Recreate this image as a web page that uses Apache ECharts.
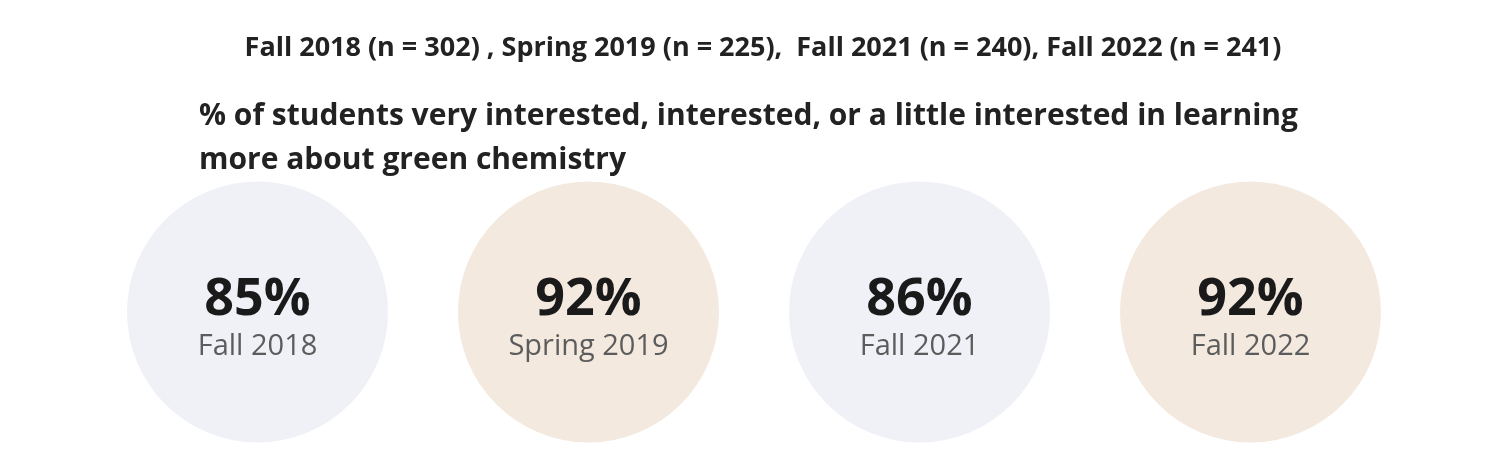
<!DOCTYPE html>
<html>
<head>
<meta charset="utf-8">
<script src="https://cdn.jsdelivr.net/npm/echarts@6/dist/echarts.min.js"></script>
<style>
  html, body { margin: 0; padding: 0; background: #fff; }
  #chart { width: 1500px; height: 456px; }
</style>
</head>
<body>
<div id="chart"></div>
<script>
const terms = ['Fall 2018', 'Spring 2019', 'Fall 2021', 'Fall 2022'];
const pctInterested = [85, 92, 86, 92];
const sampleSizes = [302, 225, 240, 241];

const circleColors = ['#eff1f7', '#f3e9df'];

const chart = echarts.init(document.getElementById('chart'));

const headerText = 'Fall 2018 (n = ' + sampleSizes[0] + ') , Spring 2019 (n = ' + sampleSizes[1] +
    '),  Fall 2021 (n = ' + sampleSizes[2] + '), Fall 2022 (n = ' + sampleSizes[3] + ')';

const option = {
    animation: false,
    textStyle: { fontFamily: 'Open Sans' },
    title: [{
        text: headerText,
        left: 758,
        textAlign: 'center',
        top: 30,
        textStyle: { fontSize: 27, fontWeight: 'bold', color: '#222', fontFamily: 'Open Sans' }
    }, {
        text: '% of students very interested, interested, or a little interested in learning\nmore about green chemistry',
        left: 194,
        top: 89,
        textStyle: { fontSize: 30, fontWeight: 'bold', color: '#222', lineHeight: 44, fontFamily: 'Open Sans' }
    }],
    grid: { left: 92, right: 84, top: 212, height: 200 },
    xAxis: {
        type: 'category',
        data: terms,
        show: false
    },
    yAxis: {
        type: 'value',
        min: -1,
        max: 1,
        show: false
    },
    series: [{
        type: 'scatter',
        symbol: 'circle',
        symbolSize: 261,
        data: pctInterested.map((v, i) => ({
            value: [terms[i], 0],
            pct: v,
            itemStyle: { color: circleColors[i % 2], opacity: 1 }
        })),
        label: {
            show: true,
            position: 'inside',
            offset: [0, 8],
            formatter: p => '{p|' + p.data.pct + '%}\n{l|' + p.name + '}',
            rich: {
                p: { fontSize: 52, fontWeight: 'bold', color: '#1a1a1a', lineHeight: 54, fontFamily: 'Open Sans' },
                l: { fontSize: 29, color: '#5c5c5c', lineHeight: 40, fontFamily: 'Open Sans' }
            }
        },
        emphasis: { disabled: true }
    }]
};

chart.setOption(option);
</script>
</body>
</html>
